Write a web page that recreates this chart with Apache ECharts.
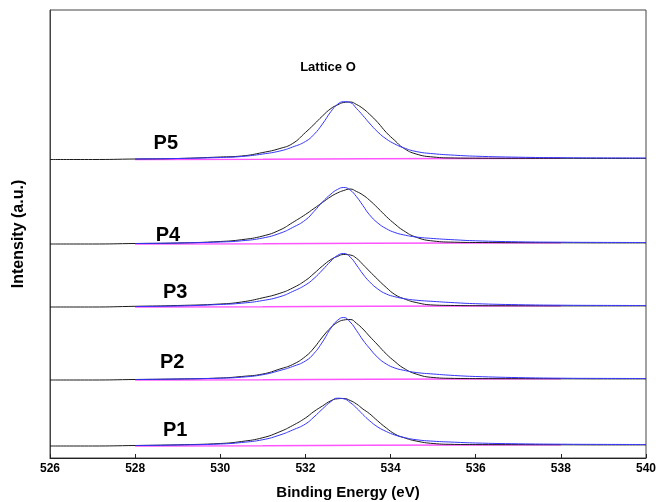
<!DOCTYPE html>
<html>
<head>
<meta charset="utf-8">
<script src="https://cdn.jsdelivr.net/npm/echarts@6/dist/echarts.min.js"></script>
<style>
    html, body { margin: 0; padding: 0; background: #fff; }
    #chart { width: 659px; height: 502px; }
</style>
</head>
<body>
<div id="chart"></div>
<script>
// O 1s 谱，五个样品上下错开
var energy = [526, 527, 528, 529, 530, 530.5, 531, 531.4, 531.7, 532.0, 532.2, 532.4, 532.6, 532.75, 532.9,
    533.05, 533.2, 533.35, 533.5, 533.7, 533.9, 534.1, 534.3, 534.6, 535, 535.5, 536, 537, 538, 539, 540];

var measuredP1 = [0, 0, 0.5, 1.2, 2.5, 4.5, 8.3, 14.3, 20.5, 28, 34.5, 40, 45.3, 47.2, 47.5, 45.5, 42, 37, 32.5, 25, 18, 12, 8.5, 5, 2.5, 1.6, 1.4, 1.3, 1.2, 1.1, 1.1];
var measuredP2 = [0, 0, 0.5, 1, 2, 3.5, 6, 11, 15.5, 23.5, 32, 43, 52.5, 57.5, 60, 60.5, 56.7, 51, 44, 35, 26, 18.5, 12, 6, 2.5, 1.6, 1.4, 1.3, 1.2, 1.1, 1.1];
var measuredP3 = [0, 0, 0.7, 1.5, 3, 5, 9.2, 13.7, 19, 26.5, 33.5, 41, 47.5, 50.5, 52.5, 52, 48.7, 42.5, 36, 27.5, 19.5, 12.5, 8.5, 4.5, 2, 1.5, 1.3, 1.2, 1.1, 1.1, 1.1];
var measuredP4 = [0, 0, 0.5, 1, 2.5, 4.3, 8, 14, 21.5, 29.5, 35.5, 41.5, 47.5, 51, 53.5, 55, 52.5, 49, 44, 36, 27.5, 20, 13.5, 6.8, 3, 1.8, 1.5, 1.3, 1.2, 1.1, 1.1];
var measuredP5 = [0, 0, 0.5, 1, 2.5, 3.5, 7, 11, 16, 27, 35, 43.5, 51, 54.5, 57, 57.5, 55, 51, 45.5, 37, 27, 19, 11.5, 5.5, 2.5, 1.5, 1.3, 1.2, 1.2, 1.1, 1.1];

var fitP1 = [null, null, 0.5, 1, 2, 3.5, 6.3, 11, 16, 22, 29, 37, 44.5, 47.8, 47.2, 43.5, 38, 31.5, 25.5, 19, 14.5, 11, 8.7, 6.3, 4.8, 3.8, 3, 2.2, 1.8, 1.6, 1.5];
var fitP2 = [null, null, 0.5, 1, 1.8, 2.8, 5.3, 9.5, 13.5, 19, 26.5, 38, 52, 59.5, 62.5, 58, 49.5, 40, 32, 22.5, 16, 12, 9.8, 7.5, 6, 4.5, 3.5, 2.4, 1.8, 1.6, 1.5];
var fitP3 = [null, null, 0.5, 1, 2.5, 3.8, 6.5, 10.3, 15.5, 22, 28.5, 37, 46, 51.5, 53.5, 50, 42, 33, 25.5, 18, 13, 10.3, 8.5, 6.8, 5.6, 4.3, 3.3, 2.3, 1.8, 1.6, 1.5];
var fitP4 = [null, null, 0.5, 1, 2, 3.2, 6, 10.7, 16.5, 24, 32.5, 42, 50, 54.5, 56.5, 54, 47.3, 38.5, 29.5, 21, 15.3, 11.5, 9.2, 7, 5.5, 4.2, 3.2, 2.2, 1.8, 1.6, 1.5];
var fitP5 = [null, null, 0.5, 1, 2, 3, 5.5, 8.5, 12.5, 18, 25, 35.5, 48, 55, 57.8, 57, 51, 44, 36.5, 27.5, 20.5, 15.5, 11.8, 8, 5.8, 4.3, 3.3, 2.3, 1.8, 1.6, 1.5];

// 背景线 (Shirley)
var bgEnergy = [528, 531, 533.5, 538];
var bgLevel = [0, 0.2, 0.8, 1.2];

var sampleNames = ['P1', 'P2', 'P3', 'P4', 'P5'];
var offsets = [12, 78, 151, 214, 298.5];
var labelEnergy = [528.94, 528.87, 528.94, 528.77, 528.72];
var labelLevel = [28, 96, 166, 223, 315];

var xTicks = [526, 528, 530, 532, 534, 536, 538, 540];

var measured = [measuredP1, measuredP2, measuredP3, measuredP4, measuredP5];
var fitted = [fitP1, fitP2, fitP3, fitP4, fitP5];

function shift(xs, ys, off) {
    var out = [];
    for (var i = 0; i < xs.length; i++) {
        if (ys[i] == null) continue;
        out.push([xs[i], ys[i] + off]);
    }
    return out;
}

var series = [];
for (var i = 0; i < sampleNames.length; i++) {
    series.push({
        type: 'line', name: sampleNames[i] + ' bg', data: shift(bgEnergy, bgLevel, offsets[i]),
        symbol: 'none', lineStyle: {color: '#ff55ff', width: 1.5}, z: 1
    });
    series.push({
        type: 'line', name: sampleNames[i], data: shift(energy, measured[i], offsets[i]),
        symbol: 'none', smooth: 0.5, lineStyle: {color: '#1a1a1a', width: 1}, z: 2
    });
    series.push({
        type: 'line', name: sampleNames[i] + ' fit', data: shift(energy, fitted[i], offsets[i]),
        symbol: 'none', smooth: 0.5, lineStyle: {color: '#3535ff', width: 1}, z: 3
    });
}

// 文字标注
var textData = [];
for (var k = 0; k < sampleNames.length; k++) {
    textData.push({value: [labelEnergy[k], labelLevel[k]], name: sampleNames[k], fs: 20});
}
textData.push({value: [532.53, 391], name: 'Lattice O', fs: 13});

series.push({
    type: 'scatter',
    symbolSize: 0,
    silent: true,
    z: 5,
    itemStyle: {opacity: 1},
    data: textData.map(function (d) {
        return {
            value: d.value,
            label: {
                show: true, position: 'inside', formatter: d.name,
                fontSize: d.fs, fontWeight: 'bold', color: '#000', opacity: 1,
                fontFamily: 'Liberation Sans'
            }
        };
    })
});

var chart = echarts.init(document.getElementById('chart'));
chart.setOption({
    animation: false,
    grid: {
        left: 50, right: 13, top: 10, bottom: 44,
        outerBoundsMode: 'none',
        show: true, borderColor: '#444', borderWidth: 1
    },
    xAxis: {
        type: 'value', min: xTicks[0], max: xTicks[xTicks.length - 1], interval: 2,
        name: 'Binding Energy (eV)', nameLocation: 'middle', nameGap: 27,
        nameTextStyle: {fontSize: 15, fontWeight: 'bold', color: '#000', fontFamily: 'Liberation Sans'},
        axisLine: {lineStyle: {color: '#222'}},
        axisTick: {show: true, inside: true, length: 4, lineStyle: {color: '#222'}},
        splitLine: {show: false},
        axisLabel: {margin: 5, fontSize: 12, fontWeight: 'bold', color: '#000', fontFamily: 'Liberation Sans'}
    },
    yAxis: {
        type: 'value', min: 0, max: 448,
        name: 'Intensity (a.u.)', nameLocation: 'middle', nameGap: 23,
        nameTextStyle: {fontSize: 16, fontWeight: 'bold', color: '#000', fontFamily: 'Liberation Sans'},
        axisLine: {show: true, lineStyle: {color: '#444'}},
        axisTick: {show: false},
        axisLabel: {show: false},
        splitLine: {show: false}
    },
    series: series
});
</script>
</body>
</html>
